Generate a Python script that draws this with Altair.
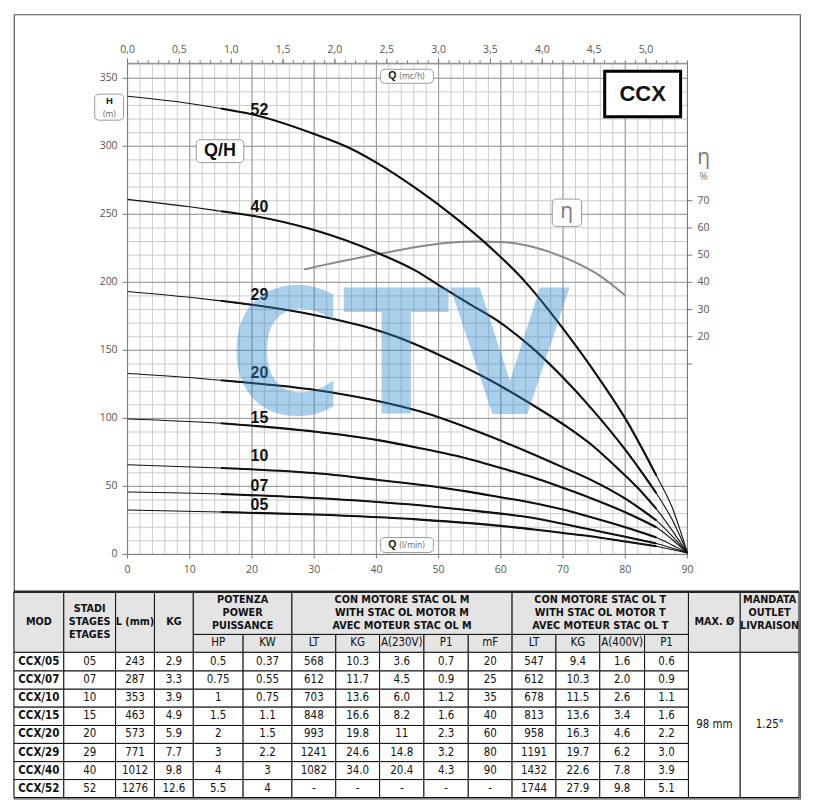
import altair as alt
import pandas as pd

# ---------------- curve data ----------------
MODELS = ["05", "07", "10", "15", "20", "29", "40", "52"]

Q_05 = [0, 15, 30, 47, 55, 60, 65, 70, 74.4, 80, 85, 90]
H_05 = [32.7, 31.2, 29.3, 25.6, 23.0, 21.0, 18.5, 15.8, 13.4, 9.5, 6.0, 1.0]
Q_07 = [0, 15, 30, 47, 55, 60, 65, 70, 74.4, 80, 85, 90]
H_07 = [45.9, 44.4, 41.5, 36.1, 32.5, 30.0, 27.0, 22.5, 18.3, 13.0, 8.0, 1.0]
Q_10 = [0, 15, 30, 40, 47, 55, 60, 65, 70, 74.4, 80, 85, 90]
H_10 = [65.9, 63.5, 59.8, 54.9, 51.2, 46.0, 42.0, 38.0, 33.0, 27.5, 20.0, 12.5, 1.0]
Q_15 = [0, 15, 30, 40, 47, 55, 60, 65, 70, 74.4, 80, 85, 90]
H_15 = [99.6, 96.4, 90.3, 84.2, 78.1, 70.0, 63.5, 57.0, 49.0, 41.5, 31.0, 20.0, 1.0]
Q_20 = [0, 10, 15, 20, 30, 35.4, 40, 47.1, 57, 65, 70, 74.4, 80, 85, 90]
H_20 = [133, 130, 128, 126, 121, 117, 113, 105, 89, 74, 64, 55, 41, 25, 1]
Q_29 = [0, 10, 15, 20, 30, 40, 44.4, 47, 54, 58.3, 64.7, 71.2, 75, 78.6, 82, 85, 90]
H_29 = [193.3, 189, 186.4, 183.5, 176, 165, 158, 153, 138, 128, 111, 92, 79, 64, 49, 33.5, 1]
Q_40 = [0, 10, 15, 20, 30, 40, 46.3, 50, 55, 59.4, 65, 70, 75, 80, 85, 87.5, 90]
H_40 = [261, 255.5, 252.3, 249, 238.4, 222, 208.6, 198, 184, 172, 152, 130, 105, 77, 45, 26, 1]
Q_52 = [0, 10, 15, 20, 30, 36, 40, 47, 52, 57, 64, 70, 76, 80, 85, 87.5, 90]
H_52 = [336.8, 331.5, 327.8, 323.5, 309, 298, 288, 267, 250, 231, 200, 166, 128, 100, 58, 35, 1]

CURVE_Q = {"05": Q_05, "07": Q_07, "10": Q_10, "15": Q_15,
           "20": Q_20, "29": Q_29, "40": Q_40, "52": Q_52}
CURVE_H = {"05": H_05, "07": H_07, "10": H_10, "15": H_15,
           "20": H_20, "29": H_29, "40": H_40, "52": H_52}

# curve labels (Q, H) in data units
LABEL_Q = 21.2
LABEL_H = [36.1, 50.5, 72.0, 100.5, 133.5, 190.4, 255.5, 326.3]

# efficiency curve (eta %)
Q_ETA = [28.4, 32, 36, 40, 44, 48, 52, 56, 60, 64, 68, 72, 76, 80]
ETA = [44.7, 46.6, 48.5, 50.3, 52.0, 53.5, 54.6, 55.0, 54.8, 53.6, 51.0, 47.3, 42.3, 35.2]

# axis ticks / labels
H_TICKS = [0, 50, 100, 150, 200, 250, 300, 350]
Q_TICKS = [0, 10, 20, 30, 40, 50, 60, 70, 80, 90]
M3H_VALUES = [0.0, 0.5, 1.0, 1.5, 2.0, 2.5, 3.0, 3.5, 4.0, 4.5, 5.0]
M3H_LABELS = ["0,0", "0,5", "1,0", "1,5", "2,0", "2,5", "3,0", "3,5", "4,0", "4,5", "5,0"]
ETA_TICKS = [10, 20, 30, 40, 50, 60, 70]
ETA_LABELS = ["", "20", "30", "40", "50", "60", "70"]

# ---------------- table data ----------------
T_MOD = ["CCX/05", "CCX/07", "CCX/10", "CCX/15", "CCX/20", "CCX/29", "CCX/40", "CCX/52"]
T_STAGES = ["05", "07", "10", "15", "20", "29", "40", "52"]
T_L_MM = ["243", "287", "353", "463", "573", "771", "1012", "1276"]
T_KG = ["2.9", "3.3", "3.9", "4.9", "5.9", "7.7", "9.8", "12.6"]
T_HP = ["0.5", "0.75", "1", "1.5", "2", "3", "4", "5.5"]
T_KW = ["0.37", "0.55", "0.75", "1.1", "1.5", "2.2", "3", "4"]
T_M_LT = ["568", "612", "703", "848", "993", "1241", "1082", "-"]
T_M_KG = ["10.3", "11.7", "13.6", "16.6", "19.8", "24.6", "34.0", "-"]
T_M_A = ["3.6", "4.5", "6.0", "8.2", "11", "14.8", "20.4", "-"]
T_M_P1 = ["0.7", "0.9", "1.2", "1.6", "2.3", "3.2", "4.3", "-"]
T_M_MF = ["20", "25", "35", "40", "60", "80", "90", "-"]
T_T_LT = ["547", "612", "678", "813", "958", "1191", "1432", "1744"]
T_T_KG = ["9.4", "10.3", "11.5", "13.6", "16.3", "19.7", "22.6", "27.9"]
T_T_A = ["1.6", "2.0", "2.6", "3.4", "4.6", "6.2", "7.8", "9.8"]
T_T_P1 = ["0.6", "0.9", "1.1", "1.6", "2.2", "3.0", "3.9", "5.1"]
T_MAX_D = "98 mm"
T_OUTLET = '1.25"'

# header: lines, col span, row span of the cell, row span used to centre the text
HEAD_GROUPS = [
    (["MOD"], 0, 1, 0, 2, 0, 2),
    (["STADI", "STAGES", "ETAGES"], 1, 2, 0, 2, 0, 2),
    (["L (mm)"], 2, 3, 0, 2, 0, 2),
    (["KG"], 3, 4, 0, 2, 0, 2),
    (["POTENZA", "POWER", "PUISSANCE"], 4, 6, 0, 1, 0, 1),
    (["CON MOTORE STAC OL M", "WITH STAC OL MOTOR M", "AVEC MOTEUR STAC OL M"], 6, 11, 0, 1, 0, 1),
    (["CON MOTORE STAC OL T", "WITH STAC OL MOTOR T", "AVEC MOTEUR STAC OL T"], 11, 15, 0, 1, 0, 1),
    (["MAX. Ø"], 15, 16, 0, 2, 0, 2),
    (["MANDATA", "OUTLET", "LIVRAISON"], 16, 17, 0, 2, 0, 1),
]
SUB_HEADS = ["HP", "KW", "LT", "KG", "A(230V)", "P1", "mF", "LT", "KG", "A(400V)", "P1"]

# ---------------- layout ----------------
VIEW_W, VIEW_H = 789, 787
Q_MAX, H_MAX, M3H_MAX = 90, 361, 5.4
PLOT_X0, PLOT_X1 = 114, 676
PLOT_Y0, PLOT_Y1 = 542, 49


def y_of_h(h):
    return PLOT_Y0 + (PLOT_Y1 - PLOT_Y0) * h / H_MAX


ETA_ZERO_H, ETA_PER_PCT = 120, 2  # eta axis: 0 % at H = 120 m, 2 m per %

COL_EDGES = [0, 50, 102, 141, 180, 230, 279, 323, 367, 411.5, 456, 500, 544, 588, 633, 677, 729, 788]
ROW_EDGES = [579.5, 622.3, 640.3, 659, 677.3, 695.3, 713.7, 731.7, 750, 768, 786]
HEAD_LINE_H = 13.4


def to_index(edges, p):
    for k in range(len(edges) - 1):
        if edges[k] <= p <= edges[k + 1]:
            return k + (p - edges[k]) / (edges[k + 1] - edges[k])
    if p < edges[0]:
        return (p - edges[0]) / (edges[1] - edges[0])
    return len(edges) - 1 + (p - edges[-1]) / (edges[-1] - edges[-2])


def frac_mid(edges, i, j):
    return to_index(edges, (edges[i] + edges[j]) / 2.0)


AXIS_FONT = "Open Sans, DejaVu Sans, sans-serif"
BOLD_FONT = "Liberation Sans, Arial, sans-serif"
TABLE_FONT = "Liberation Sans Narrow, Arial Narrow, DejaVu Sans Condensed, sans-serif"
GRID_MINOR = "#cbcbcb"
GRID_MAJOR = "#9a9a9a"
TICK_COL = "#777777"
LABEL_COL = "#555555"

SQ = alt.Scale(domain=[0, Q_MAX], range=[PLOT_X0, PLOT_X1], nice=False, zero=False)
SM = alt.Scale(domain=[0, M3H_MAX], range=[PLOT_X0, PLOT_X1], nice=False, zero=False)
SH = alt.Scale(domain=[0, H_MAX], range=[PLOT_Y0, PLOT_Y1], nice=False, zero=False)
SE = alt.Scale(domain=[0, 70], range=[y_of_h(ETA_ZERO_H), y_of_h(ETA_ZERO_H + 70 * ETA_PER_PCT)],
               nice=False, zero=False)
SCX = alt.Scale(domain=list(range(len(COL_EDGES))), range=COL_EDGES, nice=False, zero=False)
SCY = alt.Scale(domain=list(range(len(ROW_EDGES))), range=ROW_EDGES, nice=False, zero=False)


def X(f, s):
    return alt.X(f, type="quantitative", scale=s, axis=None)


def Y(f, s):
    return alt.Y(f, type="quantitative", scale=s, axis=None)


layers = []

# ---------------- grid ----------------
vmin = pd.DataFrame({"q": list(range(0, Q_MAX + 1, 2)), "h0": 0.0, "h1": float(H_MAX)})
hmin = pd.DataFrame({"h": list(range(0, 361, 10)), "q0": 0.0, "q1": float(Q_MAX)})
vmaj = pd.DataFrame({"q": Q_TICKS, "h0": 0.0, "h1": float(H_MAX)})
hmaj = pd.DataFrame({"h": H_TICKS, "q0": 0.0, "q1": float(Q_MAX)})
layers.append(alt.Chart(vmin).mark_rule(color=GRID_MINOR, strokeWidth=1).encode(
    x=X("q", SQ), y=Y("h0", SH), y2="h1"))
layers.append(alt.Chart(hmin).mark_rule(color=GRID_MINOR, strokeWidth=1).encode(
    y=Y("h", SH), x=X("q0", SQ), x2="q1"))
layers.append(alt.Chart(vmaj).mark_rule(color=GRID_MAJOR, strokeWidth=1).encode(
    x=X("q", SQ), y=Y("h0", SH), y2="h1"))
layers.append(alt.Chart(hmaj).mark_rule(color=GRID_MAJOR, strokeWidth=1).encode(
    y=Y("h", SH), x=X("q0", SQ), x2="q1"))

frame = pd.DataFrame({"q0": [0.0], "q1": [float(Q_MAX)], "h0": [0.0], "h1": [float(H_MAX)]})
layers.append(alt.Chart(frame).mark_rect(fillOpacity=0, stroke="#7a7a7a", strokeWidth=1).encode(
    x=X("q0", SQ), x2="q1", y=Y("h0", SH), y2="h1"))

# ---------------- axes (ticks + labels) ----------------
left = pd.DataFrame({"h": H_TICKS, "q": 0.0, "label": [str(v) for v in H_TICKS]})
layers.append(alt.Chart(left).mark_rule(color=TICK_COL, x2Offset=-5).encode(
    x=X("q", SQ), x2="q", y=Y("h", SH)))
layers.append(alt.Chart(left).mark_text(align="right", baseline="middle", dx=-10, font=AXIS_FONT,
                                        fontSize=10.5, color=LABEL_COL).encode(
    x=X("q", SQ), y=Y("h", SH), text=alt.Text("label:N")))

bottom = pd.DataFrame({"q": Q_TICKS, "h": 0.0, "label": [str(v) for v in Q_TICKS]})
layers.append(alt.Chart(bottom).mark_rule(color=TICK_COL, y2Offset=4).encode(
    x=X("q", SQ), y=Y("h", SH), y2="h"))
layers.append(alt.Chart(bottom).mark_text(align="center", baseline="middle", dy=16, font=AXIS_FONT,
                                          fontSize=10.5, color=LABEL_COL).encode(
    x=X("q", SQ), y=Y("h", SH), text=alt.Text("label:N")))

top_minor = pd.DataFrame({"m": [round(i * 0.1, 1) for i in range(55)], "h": float(H_MAX)})
top_major = pd.DataFrame({"m": M3H_VALUES, "h": float(H_MAX), "label": M3H_LABELS})
layers.append(alt.Chart(top_minor).mark_rule(color=TICK_COL, y2Offset=-3).encode(
    x=X("m", SM), y=Y("h", SH), y2="h"))
layers.append(alt.Chart(top_major).mark_rule(color=TICK_COL, y2Offset=-5).encode(
    x=X("m", SM), y=Y("h", SH), y2="h"))
layers.append(alt.Chart(top_major).mark_text(align="center", baseline="middle", dy=-13, font=AXIS_FONT,
                                             fontSize=10.5, color=LABEL_COL).encode(
    x=X("m", SM), y=Y("h", SH), text=alt.Text("label:N")))

right = pd.DataFrame({"e": ETA_TICKS, "q": float(Q_MAX), "label": ETA_LABELS})
layers.append(alt.Chart(right).mark_rule(color=TICK_COL, x2Offset=5).encode(
    x=X("q", SQ), x2="q", y=Y("e", SE)))
layers.append(alt.Chart(right).mark_text(align="left", baseline="middle", dx=10, font=AXIS_FONT,
                                         fontSize=10.5, color=LABEL_COL).encode(
    x=X("q", SQ), y=Y("e", SE), text=alt.Text("label:N")))

# ---------------- efficiency curve ----------------
eta_df = pd.DataFrame({"q": Q_ETA, "eta": ETA})
layers.append(alt.Chart(eta_df).mark_line(color="#8a8a8a", strokeWidth=2, interpolate="monotone").encode(
    x=X("q", SQ), y=Y("eta", SE)))

# ---------------- Q/H curves ----------------
rows = []
for m in MODELS:
    for q, h in zip(CURVE_Q[m], CURVE_H[m]):
        rows.append({"model": m, "q": q, "h": h})
curves = pd.DataFrame(rows)
thick = curves[(curves["q"] >= 15) & (curves["q"] <= 85)]
layers.append(alt.Chart(curves).mark_line(color="#111111", strokeWidth=1.1, interpolate="monotone").encode(
    x=X("q", SQ), y=Y("h", SH), detail="model:N"))
layers.append(alt.Chart(thick).mark_line(color="#111111", strokeWidth=2.1, interpolate="monotone").encode(
    x=X("q", SQ), y=Y("h", SH), detail="model:N"))

labels = pd.DataFrame({"q": LABEL_Q, "h": LABEL_H, "t": MODELS})
layers.append(alt.Chart(labels).mark_text(font=BOLD_FONT, fontWeight="bold", fontSize=16, color="#111111",
                                          align="center", baseline="middle").encode(
    x=X("q", SQ), y=Y("h", SH), text=alt.Text("t:N")))

# ---------------- annotation boxes ----------------
boxes = pd.DataFrame({
    "q0": [-5.28, 11.05, 40.68, 40.68, 68.27],
    "q1": [-0.64, 18.69, 49.16, 49.16, 72.98],
    "h0": [319.2, 288.0, 346.3, 1.46, 241.1],
    "h1": [338.3, 304.8, 356.6, 12.45, 261.2],
})
layers.append(alt.Chart(boxes).mark_rect(fill="white", stroke="#9a9a9a", strokeWidth=1, cornerRadius=4).encode(
    x=X("q0", SQ), x2="q1", y=Y("h0", SH), y2="h1"))
ccx_box = pd.DataFrame({"q0": [76.7], "q1": [88.9], "h0": [321.7], "h1": [355.1]})
layers.append(alt.Chart(ccx_box).mark_rect(fill="white", stroke="#000000", strokeWidth=3).encode(
    x=X("q0", SQ), x2="q1", y=Y("h0", SH), y2="h1"))


def txt(q, h, t, size, color="#111111", weight="normal", align="center", font=BOLD_FONT):
    d = pd.DataFrame({"q": [q], "h": [h], "t": [t]})
    return alt.Chart(d).mark_text(font=font, fontSize=size, fontWeight=weight, color=color,
                                  align=align, baseline="middle").encode(
        x=X("q", SQ), y=Y("h", SH), text=alt.Text("t:N"))


layers.append(txt(-2.93, 333.2, "H", 9.5, weight="bold"))
layers.append(txt(-2.93, 323.6, "(m)", 8.5, color="#666666", font=AXIS_FONT))
layers.append(txt(14.87, 296.4, "Q/H", 18, weight="bold"))
layers.append(txt(42.55, 351.4, "Q", 10.5, weight="bold"))
layers.append(txt(43.7, 351.4, "(mc/h)", 8.5, color="#666666", align="left", font=AXIS_FONT))
layers.append(txt(42.55, 6.96, "Q", 10.5, weight="bold"))
layers.append(txt(43.7, 6.96, "(l/min)", 8.5, color="#666666", align="left", font=AXIS_FONT))
layers.append(txt(70.6, 251.8, "η", 21, color="#777777", font=AXIS_FONT))
layers.append(txt(82.8, 338.4, "CCX", 22, weight="bold"))
layers.append(txt(92.6, 291.0, "η", 21, color="#777777", font=AXIS_FONT))
layers.append(txt(92.6, 277.5, "%", 10, color="#777777", font=AXIS_FONT))

# ---------------- watermark ----------------
wm = pd.DataFrame({"q": [43.7], "h": [103.0], "t": ["CTV"]})
layers.append(alt.Chart(wm).mark_text(font=TABLE_FONT, fontWeight="bold", fontSize=174, color="#2a88cc",
                                      opacity=0.4, align="center", baseline="alphabetic").encode(
    x=X("q", SQ), y=Y("h", SH), text=alt.Text("t:N")))

# ---------------- table ----------------
head_cells = [(c0, c1, r0, r1) for (_, c0, c1, r0, r1, _a, _b) in HEAD_GROUPS]
head_cells += [(c, c + 1, 1, 2) for c in range(4, 15)]
body_cells = [(c, c + 1, 2 + r, 3 + r) for c in range(15) for r in range(8)]
body_cells += [(15, 16, 2, 10), (16, 17, 2, 10)]
hc = pd.DataFrame(head_cells, columns=["c0", "c1", "r0", "r1"])
bc = pd.DataFrame(body_cells, columns=["c0", "c1", "r0", "r1"])
layers.append(alt.Chart(hc).mark_rect(fill="#e4e4e4", stroke="#111111", strokeWidth=1).encode(
    x=X("c0", SCX), x2="c1", y=Y("r0", SCY), y2="r1"))
layers.append(alt.Chart(bc).mark_rect(fill="#ffffff", stroke="#111111", strokeWidth=1).encode(
    x=X("c0", SCX), x2="c1", y=Y("r0", SCY), y2="r1"))

sep = pd.DataFrame({"c0": [0.0], "c1": [float(len(COL_EDGES) - 1)], "r": [0.0]})
layers.append(alt.Chart(sep).mark_rule(color="#222222", strokeWidth=2.5).encode(
    x=X("c0", SCX), x2="c1", y=Y("r", SCY)))

head_txt = []
for (lines, c0, c1, r0, r1, tr0, tr1) in HEAD_GROUPS:
    cx = frac_mid(COL_EDGES, c0, c1)
    centre = (ROW_EDGES[tr0] + ROW_EDGES[tr1]) / 2.0
    n = len(lines)
    for k, line in enumerate(lines):
        p = centre + (k - (n - 1) / 2.0) * HEAD_LINE_H
        head_txt.append({"cx": cx, "cy": to_index(ROW_EDGES, p), "t": line})
layers.append(alt.Chart(pd.DataFrame(head_txt)).mark_text(
    font=TABLE_FONT, fontWeight="bold", fontSize=10.8, color="#111111", align="center",
    baseline="middle").encode(
    x=X("cx", SCX), y=Y("cy", SCY), text=alt.Text("t:N")))

sub_txt = pd.DataFrame({"cx": [c + 0.5 for c in range(4, 15)], "cy": 1.5, "t": SUB_HEADS})
layers.append(alt.Chart(sub_txt).mark_text(font=TABLE_FONT, fontSize=11.5, color="#111111",
                                           align="center", baseline="middle").encode(
    x=X("cx", SCX), y=Y("cy", SCY), text=alt.Text("t:N")))

BODY_COLS = [T_STAGES, T_L_MM, T_KG, T_HP, T_KW, T_M_LT, T_M_KG, T_M_A, T_M_P1, T_M_MF,
             T_T_LT, T_T_KG, T_T_A, T_T_P1]
body_rows = []
for ci, col in enumerate(BODY_COLS, start=1):
    for r, v in enumerate(col):
        body_rows.append({"cx": ci + 0.5, "cy": 2.5 + r, "t": v})
body_mid = frac_mid(ROW_EDGES, 2, 10)
body_rows.append({"cx": 15.5, "cy": body_mid, "t": T_MAX_D})
body_rows.append({"cx": 16.5, "cy": body_mid, "t": T_OUTLET})
layers.append(alt.Chart(pd.DataFrame(body_rows)).mark_text(font=TABLE_FONT, fontSize=11.5, color="#111111",
                                                           align="center", baseline="middle").encode(
    x=X("cx", SCX), y=Y("cy", SCY), text=alt.Text("t:N")))

mod_txt = pd.DataFrame({"cx": 0.5, "cy": [2.5 + r for r in range(8)], "t": T_MOD})
layers.append(alt.Chart(mod_txt).mark_text(font=TABLE_FONT, fontWeight="bold", fontSize=11.5, color="#111111",
                                           align="center", baseline="middle").encode(
    x=X("cx", SCX), y=Y("cy", SCY), text=alt.Text("t:N")))

chart = alt.layer(*layers).resolve_scale(x="independent", y="independent").properties(
    width=VIEW_W, height=VIEW_H,
    padding={"left": 4, "top": 5, "right": 5, "bottom": 2},
    background="white",
).configure_view(stroke="#555555", strokeWidth=1.2)

chart.save("out.html", embed_options={"renderer": "svg", "actions": False})
